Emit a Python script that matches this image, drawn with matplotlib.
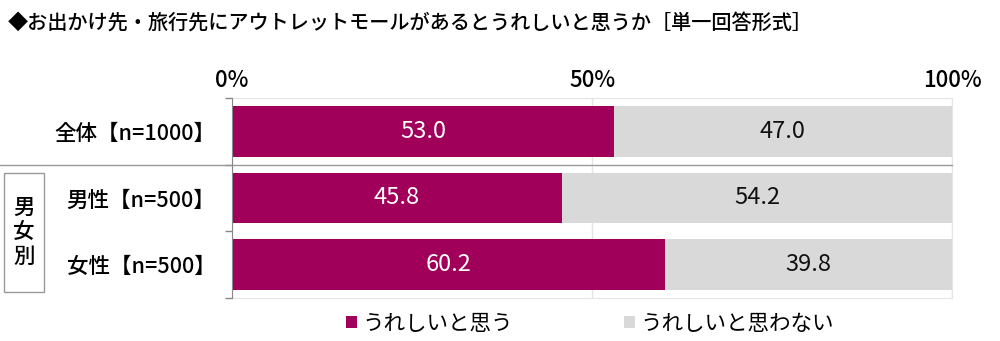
#!/usr/bin/env python

# Imports
import matplotlib
matplotlib.use("Agg")
import matplotlib.pyplot as plt
from matplotlib.patches import Rectangle

plt.rcParams['font.family'] = ['Noto Sans CJK JP', 'DejaVu Sans']

# Data
title = "◆お出かけ先・旅行先にアウトレットモールがあるとうれしいと思うか［単一回答形式］"
categories = ["全体【n=1000】", "男性【n=500】", "女性【n=500】"]
happy = [53.0, 45.8, 60.2]
not_happy = [47.0, 54.2, 39.8]
series_names = ["うれしいと思う", "うれしいと思わない"]
tick_labels = ["0%", "50%", "100%"]

# Colours
MAGENTA = "#A0005A"
GRAY = "#D9D9D9"

fig = plt.figure(figsize=(10, 3.41), dpi=100)
ax = fig.add_axes([0.232, 0.126, 0.720, 0.587])

rows = list(range(len(categories)))
b1 = ax.barh(rows, happy, height=0.76, color=MAGENTA, label=series_names[0], zorder=2)
b2 = ax.barh(rows, not_happy, left=happy, height=0.76, color=GRAY, label=series_names[1], zorder=2)

# Value labels in the middle of each segment
for i in rows:
    ax.text(happy[i] / 2, i, f"{happy[i]:.1f}", ha="center", va="center",
            color="white", fontsize=17, zorder=3)
    ax.text(happy[i] + not_happy[i] / 2, i, f"{not_happy[i]:.1f}", ha="center",
            va="center", color="#111111", fontsize=17, zorder=3)

ax.set_xlim(0, 100)
ax.set_ylim(2.5, -0.5)

# Top percentage ticks
ax.xaxis.tick_top()
ax.set_xticks([0, 50, 100])
ax.set_xticklabels(tick_labels, fontsize=16, fontweight="medium")
ax.tick_params(axis="x", length=0, pad=4)
ax.grid(axis="x", color="#E4E4E4", linewidth=1, zorder=0)

# Category labels on the left
ax.set_yticks(rows)
ax.set_yticklabels(categories, fontsize=15.5, fontweight="medium")
ax.tick_params(axis="y", which="major", length=0, pad=12)
ax.set_yticks([-0.5, 0.5, 1.5, 2.5], minor=True)
ax.tick_params(axis="y", which="minor", length=5, color="#888888", width=1)

for side in ["top", "right", "bottom"]:
    ax.spines[side].set_color("#E4E4E4")
ax.spines["left"].set_color("#888888")
ax.spines["left"].set_zorder(4)

# Separator between total and gender rows
ax.plot([-0.232 / 0.720, 1.0], [0.5, 0.5], color="#999999", linewidth=1,
        transform=ax.get_yaxis_transform(), clip_on=False, zorder=4)

# Group box for gender rows
fig.patches.append(Rectangle((0.004, 1 - 292 / 341), 0.040, 119 / 341,
                             transform=fig.transFigure, fill=False,
                             edgecolor="#999999", linewidth=1))
fig.text(0.024, 1 - 232 / 341, "男\n女\n別", ha="center", va="center",
         fontsize=15.5, fontweight="medium", linespacing=1.15)

# Title
fig.text(0.008, 0.935, title, ha="left", va="center", fontsize=14.5, fontweight="medium")

# Legend
fig.legend(handles=[b1, b2], labels=series_names, loc="center",
           bbox_to_anchor=(0.59, 0.05), ncol=2, frameon=False, fontsize=15.5,
           handlelength=0.5, handleheight=0.5, handletextpad=0.25, columnspacing=5.2)

fig.savefig("out.png", dpi=100)
